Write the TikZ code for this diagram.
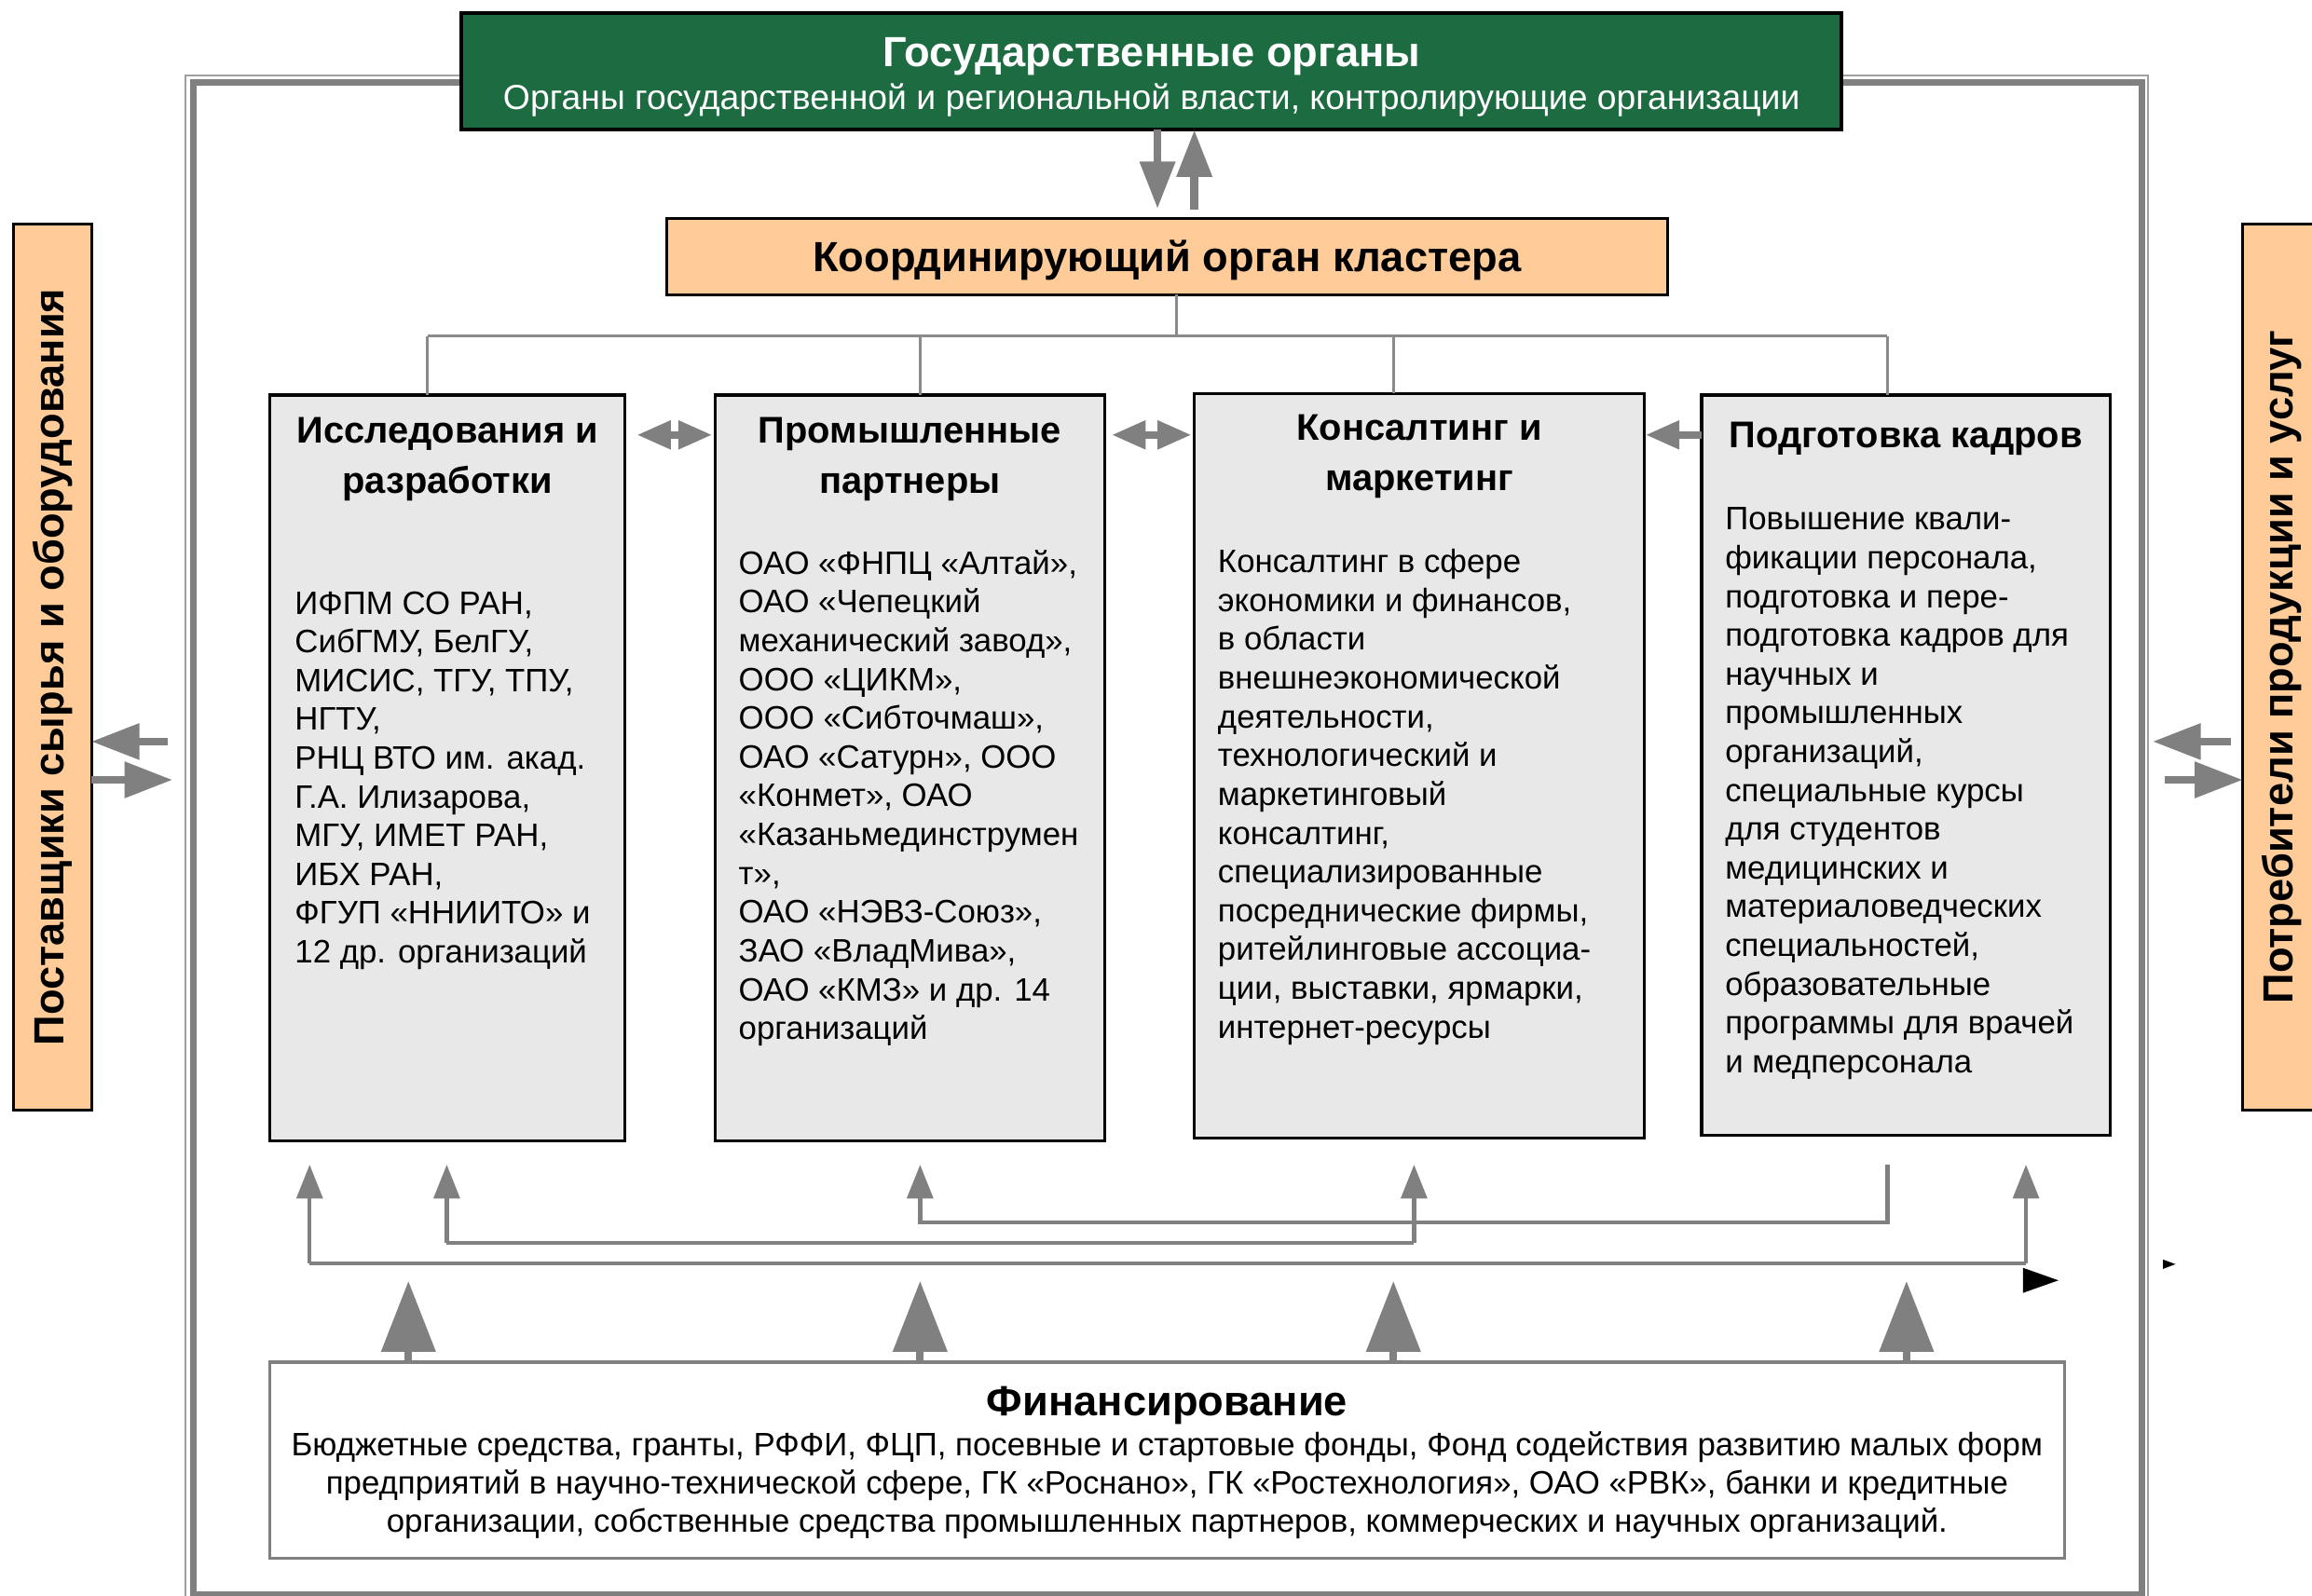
\documentclass[tikz,border=0pt]{standalone}
\usepackage{fontspec}
\setmainfont{Liberation Sans}
\usetikzlibrary{arrows.meta}
\definecolor{govgreen}{HTML}{1D6B41}
\definecolor{peach}{HTML}{FFCC99}
\definecolor{boxgray}{HTML}{E8E8E8}
\definecolor{argray}{HTML}{808080}
\definecolor{lingray}{HTML}{8A8A8A}
\definecolor{framelight}{HTML}{A0A0A0}
\tikzset{mytip/.tip={Triangle[length=11.5pt,width=9.25pt]}}
\begin{document}
\begin{tikzpicture}[x=0.5pt,y=-0.5pt,
  box/.style={draw=black,line width=1pt,outer sep=0pt,inner sep=0pt},
  graybox/.style={box,fill=boxgray},
  txt/.style={inner sep=0pt,outer sep=0pt},
  ttl/.style={txt,font=\bfseries\fontsize{12.6}{17}\selectfont},
  body/.style={txt,anchor=base west,font=\fontsize{11}{13.15}\selectfont},
  bigttl/.style={txt,anchor=base,font=\bfseries\fontsize{14.3}{16}\selectfont},
  thinline/.style={draw=lingray,line width=1pt},
  topar/.style={draw=argray,line width=2.75pt,-{Triangle[length=16pt,width=11.5pt]}},
  midar/.style={draw=argray,line width=2.5pt},
  sidear/.style={draw=argray,line width=2.5pt,-{Triangle[length=16.3pt,width=11.8pt]}},
  finar/.style={draw=argray,line width=2.5pt,-{Triangle[length=24pt,width=18pt]}},
  netline/.style={draw=argray,line width=1.4pt},
  netar/.style={netline,-{Triangle[length=11.5pt,width=8.75pt]}}
]
\useasboundingbox (0,0) rectangle (1568,1082);
\clip (0,0) rectangle (1568,1082);

% outer double frame
\draw[framelight,line width=0.7pt] (126,51) rectangle (1456.5,1090);
\draw[argray,line width=2.2pt] (131,56) rectangle (1452.7,1081.5);

% government bodies
\node[box,fill=govgreen,line width=1.2pt,minimum width=468pt,minimum height=39.5pt] (gov) at (781,48.5) {};
\node[bigttl,text=white] (govt) at (781,45) {Государственные органы};
\node[txt,anchor=base,text=white,font=\fontsize{11.8}{13}\selectfont] (govs) at (781,74) {Органы государственной и региональной власти, контролирующие организации};

% coordinating body
\node[box,fill=peach,minimum width=339.5pt,minimum height=26pt] (coord) at (791.5,174) {};
\node[bigttl] (coordt) at (791.5,184) {Координирующий орган кластера};

% arrows gov <-> coord
\coordinate (dn) at (785,141.6);
\coordinate (upb) at (810,142);
\draw[topar] (gov.south -| dn) -- (dn);
\draw[topar] (upb) -- (upb |- gov.south);

% four boxes
\node[graybox,minimum width=120.5pt,minimum height=253pt] (r1) at (303.5,521) {};
\node[graybox,minimum width=132pt,minimum height=253pt] (p1) at (617,521) {};
\node[graybox,minimum width=152.5pt,minimum height=252.5pt] (c1) at (962.5,519.5) {};
\node[graybox,minimum width=138.5pt,minimum height=251pt] (k1) at (1292.5,519) {};

% hub lines
\coordinate (hc) at (798,228);
\coordinate (h1) at (290,228);
\coordinate (h2) at (624,228);
\coordinate (h3) at (945,228);
\coordinate (h4) at (1280,228);
\draw[thinline] (hc |- coord.south) -- (hc);
\draw[thinline] (h1) -- (h4);
\draw[thinline] (h1) -- (h1 |- r1.north);
\draw[thinline] (h2) -- (h2 |- p1.north);
\draw[thinline] (h3) -- (h3 |- c1.north);
\draw[thinline] (h4) -- (h4 |- k1.north);

% titles
\node[ttl,anchor=base] (r1t) at (303.5,300.5) {\begin{tabular}[t]{@{}c@{}}Исследования и\\разработки\end{tabular}};
\node[ttl,anchor=base] (p1t) at (617,300.5) {\begin{tabular}[t]{@{}c@{}}Промышленные\\партнеры\end{tabular}};
\node[ttl,anchor=base] (c1t) at (962.5,298.5) {\begin{tabular}[t]{@{}c@{}}Консалтинг и\\маркетинг\end{tabular}};
\node[ttl,anchor=base] (k1t) at (1292.5,303.5) {Подготовка кадров};

% body texts
\node[body] (r1b) at (200,416.5) {\begin{tabular}[t]{@{}l@{}}ИФПМ СО РАН,\\СибГМУ, БелГУ,\\МИСИС, ТГУ, ТПУ,\\НГТУ,\\РНЦ ВТО им. акад.\\Г.А. Илизарова,\\МГУ, ИМЕТ РАН,\\ИБХ РАН,\\ФГУП «ННИИТО» и\\12 др. организаций\end{tabular}};
\node[body] (p1b) at (501,389.5) {\begin{tabular}[t]{@{}l@{}}ОАО «ФНПЦ «Алтай»,\\ОАО «Чепецкий\\механический завод»,\\ООО «ЦИКМ»,\\ООО «Сибточмаш»,\\ОАО «Сатурн», ООО\\«Конмет», ОАО\\«Казаньмединструмен\\т»,\\ОАО «НЭВЗ-Союз»,\\ЗАО «ВладМива»,\\ОАО «КМЗ» и др. 14\\организаций\end{tabular}};
\node[body] (c1b) at (826,388.5) {\begin{tabular}[t]{@{}l@{}}Консалтинг в сфере\\экономики и финансов,\\в области\\внешнеэкономической\\деятельности,\\технологический и\\маркетинговый\\консалтинг,\\специализированные\\посреднические фирмы,\\ритейлинговые ассоциа-\\ции, выставки, ярмарки,\\интернет-ресурсы\end{tabular}};
\node[body] (k1b) at (1170,359.5) {\begin{tabular}[t]{@{}l@{}}Повышение квали-\\фикации персонала,\\подготовка и пере-\\подготовка кадров для\\научных и\\промышленных\\организаций,\\специальные курсы\\для студентов\\медицинских и\\материаловедческих\\специальностей,\\образовательные\\программы для врачей\\и медперсонала\end{tabular}};

% arrows between boxes
\coordinate (lv) at (0,295);
\draw[midar,{mytip}-{mytip},shorten <=4pt,shorten >=1pt] (r1.east |- lv) -- (p1.west |- lv);
\draw[midar,{mytip}-{mytip},shorten <=2.5pt,shorten >=1pt] (p1.east |- lv) -- (c1.west |- lv);
\draw[midar,-{mytip},shorten >=0.5pt] (k1.west |- lv) -- (c1.east |- lv);

% side boxes
\node[box,fill=peach,minimum width=26.5pt,minimum height=300.5pt] (sup) at (35.5,452.5) {};
\node[txt,rotate=90,font=\bfseries\fontsize{14.3}{16}\selectfont] (supt) at (35.5,452.5) {Поставщики сырья и оборудования};
\node[box,fill=peach,minimum width=29.5pt,minimum height=300.5pt] (cons) at (1550.5,452.5) {};
\node[txt,rotate=90,font=\bfseries\fontsize{14.3}{16}\selectfont] (const) at (1547.5,452.5) {Потребители продукции и услуг};

% side arrows
\coordinate (sl) at (114,503);
\coordinate (sr) at (117,529);
\coordinate (tl) at (1513,503);
\coordinate (tr) at (1468,529);
\coordinate (tlt) at (1460,503);
\draw[sidear] (sl) -- (sl -| sup.east);
\draw[sidear] (sup.east |- sr) -- (sr);
\draw[sidear] (tl) -- (tlt);
\draw[sidear] (tr) -- (tr -| cons.west);

% financing
\node[box,draw=argray,fill=white,minimum width=608.5pt,minimum height=66.5pt] (fin) at (791.5,990.5) {};
\node[bigttl] (fint) at (791.5,960) {Финансирование};
\node[txt,anchor=base,font=\fontsize{11}{13}\selectfont] (finb) at (791.5,987.5) {\begin{tabular}[t]{@{}c@{}}Бюджетные средства, гранты, РФФИ, ФЦП, посевные и стартовые фонды, Фонд содействия развитию малых форм\\предприятий в научно-технической сфере, ГК «Роснано», ГК «Ростехнология», ОАО «РВК», банки и кредитные\\организации, собственные средства промышленных партнеров, коммерческих и научных организаций.\end{tabular}};

\coordinate (f1) at (277,869);
\coordinate (f2) at (624,869);
\coordinate (f3) at (945,869);
\coordinate (f4) at (1293,869);
\draw[finar] (fin.north -| f1) -- (f1);
\draw[finar] (fin.north -| f2) -- (f2);
\draw[finar] (fin.north -| f3) -- (f3);
\draw[finar] (fin.north -| f4) -- (f4);

% network lines
\coordinate (n1a) at (210,790);
\coordinate (n1b) at (1374,790);
\coordinate (n2a) at (303,790);
\coordinate (n2b) at (959,790);
\coordinate (n3a) at (624,790);
\coordinate (n3b) at (1280,790);
\draw[netar] (n3b) -- (1280,829) -- (624,829) -- (n3a);
\draw[netline] (303,843) -- (959,843);
\draw[netar] (303,843) -- (n2a);
\draw[netar] (959,843) -- (n2b);
\draw[netline] (210,857) -- (1374,857);
\draw[netar] (210,857) -- (n1a);
\draw[netar] (1374,857) -- (n1b);

% stray black arrowheads
\fill[black] (1372,860) -- (1396,868.5) -- (1372,877) -- cycle;
\fill[black] (1467,854.4) -- (1475.4,857.5) -- (1467,860.7) -- cycle;
\end{tikzpicture}
\end{document}
